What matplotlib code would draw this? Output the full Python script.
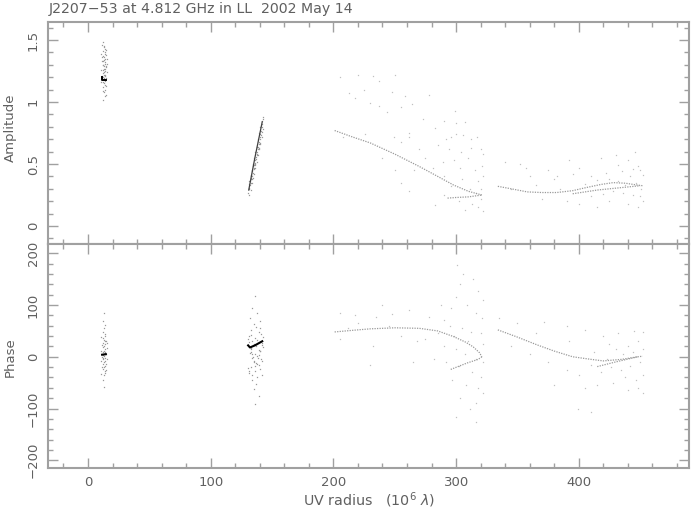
import matplotlib
matplotlib.use("Agg")
import matplotlib.pyplot as plt
from matplotlib.ticker import MultipleLocator

plt.rcParams['font.family'] = ['DejaVu Sans']

TITLE = "J2207\u221253 at 4.812 GHz in LL  2002 May 14"

# ---------------- Amplitude data (UV radius, amplitude) ----------------
amp_c1_uv = [12, 13, 14, 12.5, 13.5, 14.5, 12, 13, 14, 13, 12.5, 14, 13.5, 12, 13, 14.5, 13, 12.5, 14, 13,
             12, 13.5, 14, 12.5, 13, 14, 13.5, 12, 13, 14, 12.5, 13.5, 13, 14, 12, 13, 13.5, 12.5, 14, 13,
             11.5, 15, 11, 15.5, 11.5, 15, 11, 15.5, 11.5, 15, 11, 14.5, 12, 15, 11.5, 15.5]
amp_c1 = [1.48, 1.45, 1.43, 1.41, 1.40, 1.38, 1.37, 1.36, 1.35, 1.34, 1.33, 1.32, 1.31, 1.30, 1.29, 1.28, 1.27,
          1.26, 1.25, 1.24, 1.23, 1.22, 1.21, 1.20, 1.19, 1.18, 1.17, 1.16, 1.15, 1.14, 1.12, 1.10, 1.08, 1.05,
          1.02, 1.44, 1.39, 1.30, 1.27, 1.22,
          1.46, 1.42, 1.39, 1.35, 1.33, 1.29, 1.26, 1.24, 1.21, 1.19, 1.16, 1.13, 1.09, 1.06, 1.36, 1.31]

amp_c2_uv = [130.5, 131, 131.5, 132, 132.5, 133, 133.5, 134, 134.5, 135, 135.5, 136, 136.5, 137, 137.5, 138,
             138.5, 139, 139.5, 140, 140.5, 141, 141.5, 142, 142.5, 131, 132, 133, 134, 135, 136, 137, 138, 139,
             140, 141, 142, 132.5, 134.5, 136.5, 138.5, 140.5,
             131.5, 131.5, 132.5, 132.5, 133.5, 133.5, 134.5, 134.5, 135.5, 135.5, 136.5, 136.5, 137.5, 137.5,
             138.5, 138.5, 139.5, 139.5, 140.5, 140.5, 141.5, 141.5, 142.5, 142.5]
amp_c2 = [0.27, 0.31, 0.30, 0.36, 0.35, 0.41, 0.38, 0.44, 0.43, 0.49, 0.46, 0.53, 0.50, 0.56, 0.57, 0.60, 0.62,
          0.63, 0.68, 0.66, 0.72, 0.73, 0.76, 0.80, 0.86, 0.34, 0.33, 0.39, 0.40, 0.47, 0.51, 0.54, 0.58, 0.66,
          0.70, 0.77, 0.82, 0.38, 0.48, 0.49, 0.64, 0.74,
          0.25, 0.36, 0.29, 0.40, 0.35, 0.45, 0.39, 0.50, 0.42, 0.55, 0.47, 0.60, 0.52, 0.64, 0.57, 0.70, 0.62,
          0.75, 0.67, 0.80, 0.72, 0.85, 0.78, 0.88]

amp_c3_uv = [205, 220, 232, 250, 237, 213, 225, 248, 258, 218, 237, 255, 264, 244, 230, 278, 290, 300, 307, 299,
             273, 283, 262, 208, 226, 249, 255, 262, 292, 296, 300, 306, 312, 317, 285, 294, 304, 312, 320, 322,
             310, 298, 289, 275, 240, 266, 281, 303, 315, 321, 290, 305, 318, 322, 296, 311, 320, 255, 290, 302,
             313, 318, 322, 283, 307, 320, 316, 262, 250, 270]
amp_c3 = [1.20, 1.22, 1.21, 1.22, 1.17, 1.07, 1.10, 1.08, 1.05, 1.03, 0.97, 0.96, 0.98, 0.92, 0.99, 1.06, 0.85,
          0.83, 0.84, 0.93, 0.86, 0.79, 0.75, 0.72, 0.74, 0.72, 0.68, 0.72, 0.70, 0.72, 0.74, 0.73, 0.70, 0.72,
          0.65, 0.62, 0.60, 0.63, 0.62, 0.58, 0.55, 0.53, 0.52, 0.55, 0.55, 0.45, 0.47, 0.47, 0.45, 0.48, 0.40,
          0.38, 0.36, 0.40, 0.32, 0.30, 0.30, 0.35, 0.25, 0.20, 0.18, 0.15, 0.12, 0.17, 0.13, 0.22, 0.27, 0.28,
          0.45, 0.62]

amp_c4_uv = [340, 352, 375, 392, 400, 418, 430, 440, 446, 448, 450, 360, 380, 395, 410, 422, 435, 442, 452, 345,
             365, 385, 405, 415, 425, 432, 438, 447, 451, 370, 390, 410, 420, 428, 436, 444, 450, 400, 425, 440,
             448, 452, 415, 382, 357, 432, 444]
amp_c4 = [0.52, 0.50, 0.45, 0.53, 0.47, 0.55, 0.57, 0.53, 0.60, 0.48, 0.45, 0.40, 0.38, 0.42, 0.40, 0.43, 0.44,
          0.40, 0.41, 0.30, 0.33, 0.30, 0.34, 0.37, 0.38, 0.36, 0.33, 0.35, 0.30, 0.22, 0.20, 0.24, 0.26, 0.28,
          0.27, 0.25, 0.24, 0.18, 0.20, 0.18, 0.15, 0.20, 0.15, 0.40, 0.47, 0.49, 0.46]

# Amplitude model curves
amp_m1_uv = [11.5, 11.5, 14.5]
amp_m1 = [1.20, 1.18, 1.18]
amp_m2_uv = [131, 136, 142]
amp_m2 = [0.29, 0.55, 0.84]
amp_m3_uv = [201, 215, 230, 250, 270, 285, 298, 310, 321]
amp_m3 = [0.77, 0.72, 0.67, 0.58, 0.48, 0.40, 0.33, 0.28, 0.25]
amp_m3b_uv = [293, 300, 310, 321]
amp_m3b = [0.225, 0.23, 0.235, 0.25]
amp_m4_uv = [334, 345, 358, 370, 382, 395, 406, 418, 428, 438, 448, 452]
amp_m4 = [0.32, 0.30, 0.275, 0.27, 0.27, 0.285, 0.31, 0.335, 0.35, 0.345, 0.33, 0.325]
amp_m4b_uv = [395, 415, 435, 450]
amp_m4b = [0.26, 0.29, 0.31, 0.325]

# ---------------- Phase data (UV radius, phase in deg) ----------------
ph_c1_uv = [13, 12.5, 14, 13, 12, 13.5, 14, 12.5, 13, 14, 12, 13.5, 13, 12.5, 14, 13, 12, 13.5, 14, 12.5, 13, 14,
            12, 13.5, 13, 12.5, 14, 13, 12, 13.5, 14, 13, 12.5, 13, 14, 12.5,
            11, 15, 11.5, 15.5, 11, 15, 11.5, 15.5, 11, 15, 11.5, 15, 11, 15.5]
ph_c1 = [85, 70, 62, 55, 48, 44, 40, 36, 33, 30, 27, 24, 21, 18, 15, 12, 10, 8, 6, 3, 1, -2, -5, -8, -11, -14,
         -17, -20, -24, -28, -31, -36, -45, -58, 9, -3,
         38, 31, 22, 16, 11, 6, 0, -4, -9, -13, -19, -25, -33, 26]

ph_c2_uv = [136, 134, 138, 132, 140, 135, 137, 133, 139, 141, 131, 136, 138, 134, 142, 135, 137, 133, 139, 140,
            132, 136, 138, 134, 141, 135, 137, 139, 133, 140, 136, 131, 142, 138, 134, 137, 135, 139, 136, 133,
            130.5, 142.5, 131.5, 141.5, 132.5, 140.5, 133.5, 139.5, 134.5, 138.5, 135.5, 137.5, 136.5, 130.5,
            142.5, 131.5, 141.5, 132.5, 140.5, 133.5]
ph_c2 = [118, 95, 85, 75, 70, 64, 58, 52, 48, 44, 40, 36, 33, 30, 27, 24, 20, 17, 14, 11, 8, 5, 2, -2, -5, -8,
         -12, -16, -20, -24, -28, -32, -36, -40, -45, -52, -62, -75, -92, 10,
         35, 38, 28, 22, 15, 12, 6, 3, 0, -3, -10, -14, -18, -22, 18, -27, -9, 43, 55, -35]

ph_c3_uv = [205, 218, 235, 248, 262, 278, 290, 296, 300, 303, 301, 306, 314, 318, 322, 309, 316, 321, 295, 305,
            312, 320, 298, 310, 322, 290, 300, 307, 316, 322, 292, 302, 313, 320, 297, 308, 318, 322, 303, 316,
            300, 316, 311, 205, 220, 232, 245, 255, 268, 282, 230, 265, 275, 285, 212, 240, 288]
ph_c3 = [85, 80, 76, 82, 90, 77, 72, 95, 115, 140, 178, 160, 150, 128, 110, 100, 85, 75, 60, 55, 48, 45, 40, 30,
         25, 20, 15, 5, -5, -10, -10, -18, -30, -40, -45, -55, -60, -70, -80, -90, -116, -127, -100, 35, 65, 20,
         60, 40, 30, -5, -15, -10, 35, 45, 55, 100, 100]

ph_c4_uv = [335, 350, 372, 390, 405, 420, 432, 445, 452, 448, 440, 430, 425, 436, 444, 452, 450, 442, 434, 426,
            418, 410, 400, 390, 375, 360, 345, 438, 447, 452, 428, 415, 405, 380, 399, 410, 392, 365, 412, 423,
            448, 440, 452]
ph_c4 = [75, 65, 68, 60, 52, 40, 45, 50, 48, 30, 20, 15, 25, 5, 10, 15, -10, -18, -25, -20, -30, -15, -35, -25,
         -10, 5, 20, -40, -45, -35, -50, -55, -60, -55, -101, -107, 30, 45, 10, -5, -60, -65, -70]

# Phase model curves
ph_m1_uv = [11.5, 14.5]
ph_m1 = [4, 5]
ph_m2_uv = [130.5, 132, 136, 142]
ph_m2 = [22, 18, 22, 30]
ph_m3_uv = [201, 215, 230, 250, 270, 285, 298, 308, 314, 319, 321]
ph_m3 = [48, 51, 54, 56, 55, 50, 39, 28, 19, 8, 0]
ph_m3b_uv = [321, 318, 309, 295]
ph_m3b = [0, -5, -12, -25]
ph_m4_uv = [334, 350, 366, 380, 395, 410, 420, 435, 448, 452]
ph_m4 = [52, 38, 23, 11, 0, -5, -8, -5, 0, 1]
ph_m4b_uv = [415, 430, 448]
ph_m4b = [-19, -10, 0]

# ---------------- Figure ----------------
W, H = 693, 511
fig = plt.figure(figsize=(W / 100, H / 100), dpi=100)
L, R = 48, 689
ax1 = fig.add_axes([L / W, 1 - 244 / H, (R - L) / W, (244 - 22) / H])
ax2 = fig.add_axes([L / W, 1 - 468 / H, (R - L) / W, (468 - 244) / H])

AX_COL = '#a0a0a0'
TXT_COL = '#606060'
PT_COL = '#c0c0c0'
DENSE_COL = '#999999'
MOD_COL = '#9a9a9a'

pt = dict(ls='none', marker='s', ms=0.9, mew=0)

ax1.plot(amp_c1_uv, amp_c1, color=DENSE_COL, **pt)
ax1.plot(amp_c2_uv, amp_c2, color=DENSE_COL, **pt)
ax1.plot(amp_c3_uv, amp_c3, color=PT_COL, **pt)
ax1.plot(amp_c4_uv, amp_c4, color=PT_COL, **pt)
ax1.plot(amp_m1_uv, amp_m1, color='black', lw=1.4)
ax1.plot(amp_m2_uv, amp_m2, color='#404040', lw=0.9)
for u, v in [(amp_m3_uv, amp_m3), (amp_m3b_uv, amp_m3b), (amp_m4_uv, amp_m4), (amp_m4b_uv, amp_m4b)]:
    ax1.plot(u, v, color=MOD_COL, lw=0.9, ls=(0, (1, 1)))

ax2.plot(ph_c1_uv, ph_c1, color=DENSE_COL, **pt)
ax2.plot(ph_c2_uv, ph_c2, color=DENSE_COL, **pt)
ax2.plot(ph_c3_uv, ph_c3, color=PT_COL, **pt)
ax2.plot(ph_c4_uv, ph_c4, color=PT_COL, **pt)
ax2.plot(ph_m1_uv, ph_m1, color='black', lw=1.5)
ax2.plot(ph_m2_uv, ph_m2, color='black', lw=1.5)
for u, v in [(ph_m3_uv, ph_m3), (ph_m3b_uv, ph_m3b), (ph_m4_uv, ph_m4), (ph_m4b_uv, ph_m4b)]:
    ax2.plot(u, v, color=MOD_COL, lw=0.9, ls=(0, (1, 1)))

xlim = (-32.6, 489.8)
for ax in (ax1, ax2):
    ax.set_xlim(*xlim)
    ax.xaxis.set_major_locator(MultipleLocator(100))
    ax.xaxis.set_minor_locator(MultipleLocator(20))
    for s in ax.spines.values():
        s.set_color(AX_COL)
        s.set_linewidth(1.5)
    ax.tick_params(which='both', direction='in', top=True, right=True, color=AX_COL,
                   labelcolor=TXT_COL, labelsize=9.5, width=1)
    ax.tick_params(which='major', length=7)
    ax.tick_params(which='minor', length=3.5)

ax1.set_ylim(-0.145, 1.645)
ax1.yaxis.set_minor_locator(MultipleLocator(0.1))
ax1.set_yticks([0, 0.5, 1, 1.5])
ax1.set_yticklabels(['0', '0.5', '1', '1.5'], rotation=90, va='center')
ax1.tick_params(axis='y', pad=6)
ax1.tick_params(axis='x', labelbottom=False)

ax2.set_ylim(-215, 218)
ax2.yaxis.set_minor_locator(MultipleLocator(20))
ax2.set_yticks([-200, -100, 0, 100, 200])
ax2.set_yticklabels(['\u2212200', '\u2212100', '0', '100', '200'], rotation=90, va='center')
ax2.tick_params(axis='y', pad=6)
ax2.tick_params(axis='x', pad=6)

fig.text(10 / W, 1 - 128 / H, 'Amplitude', rotation=90, ha='center', va='center', color=TXT_COL, fontsize=9.5)
fig.text(10 / W, 1 - 357 / H, 'Phase', rotation=90, ha='center', va='center', color=TXT_COL, fontsize=9.5)
fig.text(369 / W, 1 - 500 / H, r'UV radius   (10$^6$ $\lambda$)', ha='center', va='center', color=TXT_COL,
         fontsize=10.3)
fig.text(49 / W, 1 - 9 / H, TITLE, ha='left', va='center', color=TXT_COL, fontsize=10.2)

fig.savefig('out.png', dpi=100)
